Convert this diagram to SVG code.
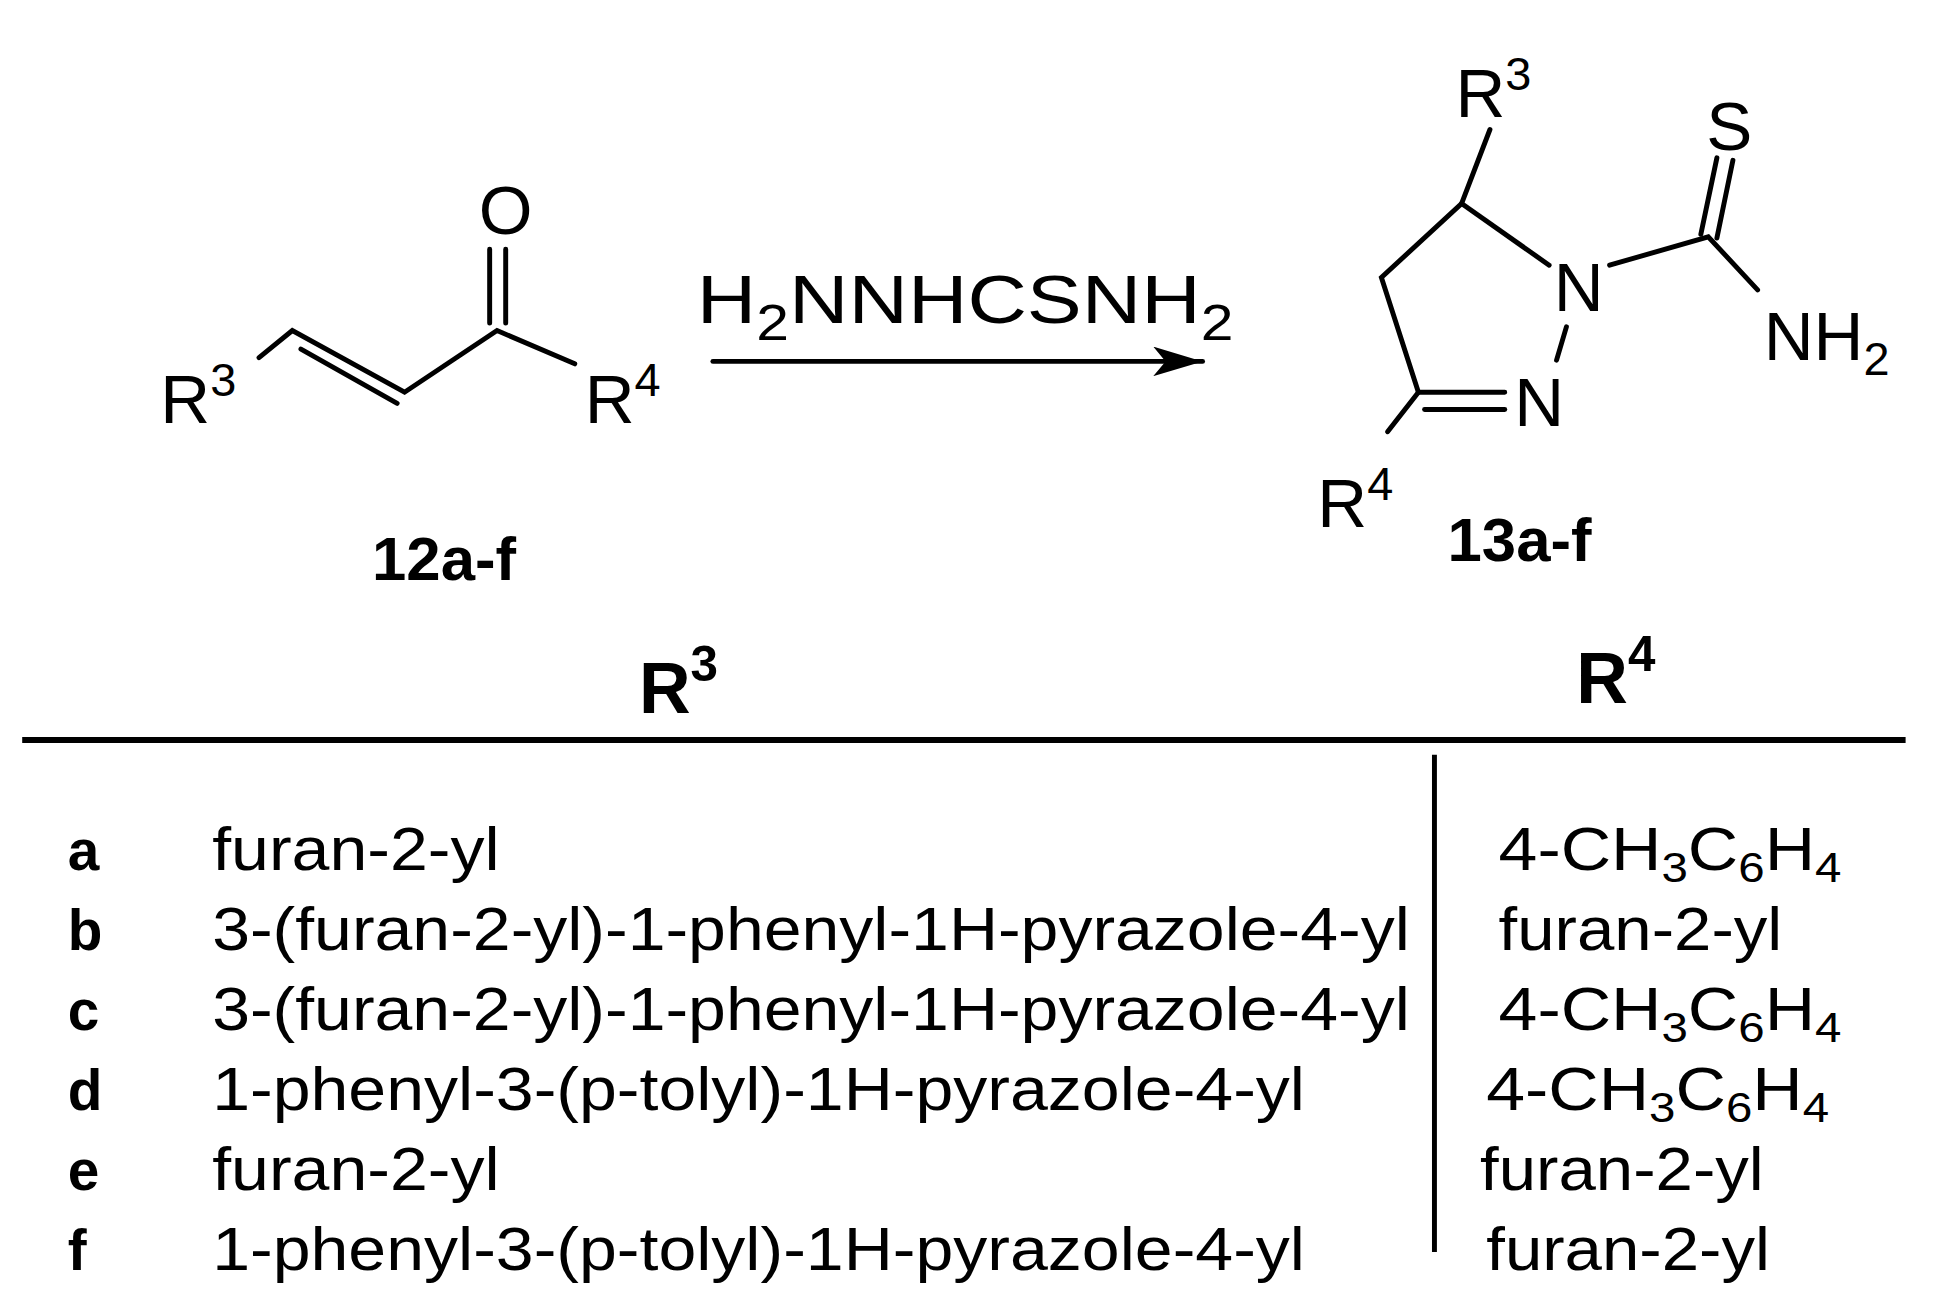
<svg xmlns="http://www.w3.org/2000/svg" width="1934" height="1314" viewBox="0 0 1934 1314">
<style>
text{font-family:"Liberation Sans",Arial,sans-serif;fill:#000}
.b{stroke:#000;stroke-width:4;fill:none;stroke-linecap:round}
.t{font-size:50px}
.l{font-size:46px;font-weight:bold}
.sub{font-size:34px}
.a{font-size:56px}
</style>
<defs><marker id="a2" viewBox="0 0 40 24" refX="40" refY="12" markerWidth="40" markerHeight="24" markerUnits="userSpaceOnUse" orient="auto"><path d="M0,0L40,12L0,24L10,12z" fill="#000"/></marker></defs>
<rect width="1934" height="1314" fill="#fff"/>
<g transform="scale(1.2334)">
<g id="reactant">
<text x="130" y="343" class="a">R<tspan font-size="38" dy="-22">3</tspan></text>
<path class="b" d="M210,290L237,268L328,318L403,268L466,295"/>
<path class="b" d="M244,283L322,327"/>
<path class="b" d="M397,262V202M410,262V202"/>
<text x="410" y="190" class="a" text-anchor="middle">O</text>
<text x="474" y="343" class="a">R<tspan font-size="38" dy="-22">4</tspan></text>
<text x="360" y="470" font-size="50" font-weight="bold" text-anchor="middle">12a-f</text>
</g>
<g id="connectors">
<path class="b" d="M578,293H975" marker-end="url(#a2)"/>
<text x="565" y="262" font-size="56" textLength="435" lengthAdjust="spacingAndGlyphs">H<tspan font-size="40" dy="14">2</tspan><tspan dy="-14">NNHCSNH</tspan><tspan font-size="40" dy="14">2</tspan></text>
</g>
<g id="product">
<text x="1180" y="95" class="a">R<tspan font-size="38" dy="-22">3</tspan></text>
<path class="b" d="M1208,105L1185,165L1120,225L1150,318L1220,318"/>
<path class="b" d="M1185,165L1256,215"/>
<path class="b" d="M1155,332L1220,332"/>
<path class="b" d="M1270,265L1262,292"/>
<path class="b" d="M1150,318L1125,350"/>
<path class="b" d="M1305,215L1385,192L1425,235"/>
<path class="b" d="M1379,190L1392,128M1392,193L1405,130"/>
<text x="1402" y="122" class="a" text-anchor="middle">S</text>
<text x="1280" y="252" class="a" text-anchor="middle">N</text>
<text x="1248" y="345" class="a" text-anchor="middle">N</text>
<text x="1430" y="292" class="a">NH<tspan font-size="38" dy="12">2</tspan></text>
<text x="1068" y="427" class="a">R<tspan font-size="38" dy="-22">4</tspan></text>
<text x="1232" y="455" font-size="50" font-weight="bold" text-anchor="middle">13a-f</text>
</g>
<g id="table">
<text x="518" y="578" font-size="58" font-weight="bold">R<tspan font-size="40" dy="-26">3</tspan></text>
<text x="1278" y="570" font-size="58" font-weight="bold">R<tspan font-size="40" dy="-26">4</tspan></text>
<path d="M18,600H1545" stroke="#000" stroke-width="5"/>
<path d="M1163,612V1015" stroke="#000" stroke-width="4"/>
<g class="t">
<text x="55" y="705" class="l">a</text><text x="172" y="705" textLength="233" lengthAdjust="spacingAndGlyphs">furan-2-yl</text>
<text x="1215" y="705" textLength="278" lengthAdjust="spacingAndGlyphs">4-CH<tspan class="sub" dy="10">3</tspan><tspan dy="-10">C</tspan><tspan class="sub" dy="10">6</tspan><tspan dy="-10">H</tspan><tspan class="sub" dy="10">4</tspan></text>
<text x="55" y="770" class="l">b</text><text x="172" y="770" textLength="971" lengthAdjust="spacingAndGlyphs">3-(furan-2-yl)-1-phenyl-1H-pyrazole-4-yl</text>
<text x="1215" y="770" textLength="230" lengthAdjust="spacingAndGlyphs">furan-2-yl</text>
<text x="55" y="835" class="l">c</text><text x="172" y="835" textLength="971" lengthAdjust="spacingAndGlyphs">3-(furan-2-yl)-1-phenyl-1H-pyrazole-4-yl</text>
<text x="1215" y="835" textLength="278" lengthAdjust="spacingAndGlyphs">4-CH<tspan class="sub" dy="10">3</tspan><tspan dy="-10">C</tspan><tspan class="sub" dy="10">6</tspan><tspan dy="-10">H</tspan><tspan class="sub" dy="10">4</tspan></text>
<text x="55" y="900" class="l">d</text><text x="172" y="900" textLength="886" lengthAdjust="spacingAndGlyphs">1-phenyl-3-(p-tolyl)-1H-pyrazole-4-yl</text>
<text x="1205" y="900" textLength="278" lengthAdjust="spacingAndGlyphs">4-CH<tspan class="sub" dy="10">3</tspan><tspan dy="-10">C</tspan><tspan class="sub" dy="10">6</tspan><tspan dy="-10">H</tspan><tspan class="sub" dy="10">4</tspan></text>
<text x="55" y="965" class="l">e</text><text x="172" y="965" textLength="233" lengthAdjust="spacingAndGlyphs">furan-2-yl</text>
<text x="1200" y="965" textLength="230" lengthAdjust="spacingAndGlyphs">furan-2-yl</text>
<text x="55" y="1030" class="l">f</text><text x="172" y="1030" textLength="886" lengthAdjust="spacingAndGlyphs">1-phenyl-3-(p-tolyl)-1H-pyrazole-4-yl</text>
<text x="1205" y="1030" textLength="230" lengthAdjust="spacingAndGlyphs">furan-2-yl</text>
</g>
</g>
</g>
</svg>
